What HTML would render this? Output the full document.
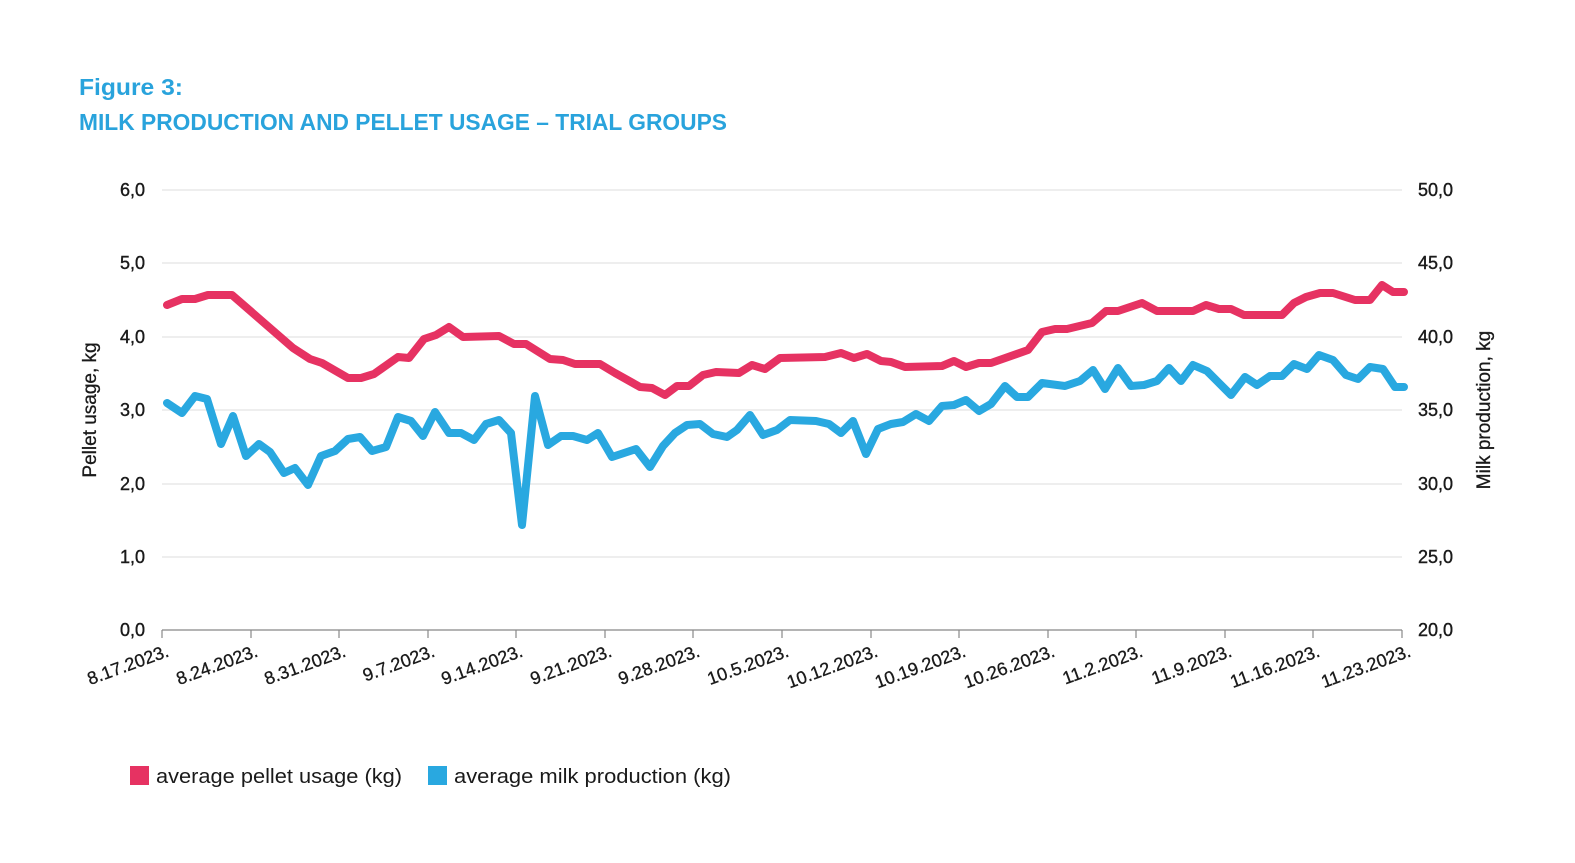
<!DOCTYPE html>
<html><head><meta charset="utf-8"><style>
html,body{margin:0;padding:0;background:#fff;}
svg{display:block;font-family:"Liberation Sans",sans-serif;}
</style></head><body>
<svg width="1575" height="863" viewBox="0 0 1575 863" xmlns="http://www.w3.org/2000/svg">
<text x="79" y="95" font-size="23" font-weight="bold" fill="#29a3dc" textLength="104" lengthAdjust="spacingAndGlyphs">Figure 3:</text>
<text x="79" y="130" font-size="23" font-weight="bold" fill="#29a3dc" textLength="648" lengthAdjust="spacingAndGlyphs">MILK PRODUCTION AND PELLET USAGE – TRIAL GROUPS</text>
<g stroke="#e3e3e3" stroke-width="1.2">
<line x1="162" y1="190" x2="1402" y2="190"/><line x1="162" y1="263" x2="1402" y2="263"/>
<line x1="162" y1="337" x2="1402" y2="337"/><line x1="162" y1="410" x2="1402" y2="410"/>
<line x1="162" y1="484" x2="1402" y2="484"/><line x1="162" y1="557" x2="1402" y2="557"/>
</g>
<line x1="162" y1="630" x2="1402" y2="630" stroke="#888" stroke-width="1.2"/>
<g stroke="#888" stroke-width="1.2">
<line x1="162" y1="630" x2="162" y2="638"/><line x1="251" y1="630" x2="251" y2="638"/><line x1="339" y1="630" x2="339" y2="638"/><line x1="428" y1="630" x2="428" y2="638"/><line x1="516" y1="630" x2="516" y2="638"/><line x1="605" y1="630" x2="605" y2="638"/><line x1="693" y1="630" x2="693" y2="638"/><line x1="782" y1="630" x2="782" y2="638"/><line x1="871" y1="630" x2="871" y2="638"/><line x1="959" y1="630" x2="959" y2="638"/><line x1="1048" y1="630" x2="1048" y2="638"/><line x1="1136" y1="630" x2="1136" y2="638"/><line x1="1225" y1="630" x2="1225" y2="638"/><line x1="1313" y1="630" x2="1313" y2="638"/><line x1="1402" y1="630" x2="1402" y2="638"/>
</g>
<g font-size="18" fill="#1a1a1a" text-anchor="end" stroke="#1a1a1a" stroke-width="0.4">
<text x="145" y="196">6,0</text><text x="145" y="269">5,0</text><text x="145" y="343">4,0</text><text x="145" y="416">3,0</text><text x="145" y="490">2,0</text><text x="145" y="563">1,0</text><text x="145" y="636">0,0</text>
</g>
<g font-size="18" fill="#1a1a1a" stroke="#1a1a1a" stroke-width="0.4">
<text x="1418" y="196">50,0</text><text x="1418" y="269">45,0</text><text x="1418" y="343">40,0</text><text x="1418" y="416">35,0</text><text x="1418" y="490">30,0</text><text x="1418" y="563">25,0</text><text x="1418" y="636">20,0</text>
</g>
<text transform="translate(96,410) rotate(-90)" font-size="19" fill="#1a1a1a" text-anchor="middle" stroke="#1a1a1a" stroke-width="0.3">Pellet usage, kg</text>
<text transform="translate(1490,410) rotate(-90)" font-size="19" fill="#1a1a1a" text-anchor="middle" stroke="#1a1a1a" stroke-width="0.3">Milk production, kg</text>
<g font-size="18" fill="#1a1a1a" text-anchor="end" stroke="#1a1a1a" stroke-width="0.3">
<text transform="translate(170,656) rotate(-20)">8.17.2023.</text>
<text transform="translate(259,656) rotate(-20)">8.24.2023.</text>
<text transform="translate(347,656) rotate(-20)">8.31.2023.</text>
<text transform="translate(436,656) rotate(-20)">9.7.2023.</text>
<text transform="translate(524,656) rotate(-20)">9.14.2023.</text>
<text transform="translate(613,656) rotate(-20)">9.21.2023.</text>
<text transform="translate(701,656) rotate(-20)">9.28.2023.</text>
<text transform="translate(790,656) rotate(-20)">10.5.2023.</text>
<text transform="translate(879,656) rotate(-20)">10.12.2023.</text>
<text transform="translate(967,656) rotate(-20)">10.19.2023.</text>
<text transform="translate(1056,656) rotate(-20)">10.26.2023.</text>
<text transform="translate(1144,656) rotate(-20)">11.2.2023.</text>
<text transform="translate(1233,656) rotate(-20)">11.9.2023.</text>
<text transform="translate(1321,656) rotate(-20)">11.16.2023.</text>
<text transform="translate(1412,656) rotate(-20)">11.23.2023.</text>
</g>
<polyline fill="none" stroke="#e63262" stroke-width="8" stroke-linejoin="round" stroke-linecap="round" points="167,305 182,299 195,299 208,295 232,295 293,348 310,359 322,363 348,378 361,378 374,374 398,357 409,358 424,339 436,335 449,327 463,337 499,336 514,344 526,344 550,359 563,360 575,364 600,364 615,373 640,387 652,388 665,395 677,386 689,386 703,375 716,372 739,373 752,365 765,369 780,358 825,357 841,353 854,358 867,354 881,361 891,362 905,367 942,366 954,361 966,367 979,363 991,363 1028,350 1042,332 1055,329 1067,329 1092,323 1106,311 1118,311 1142,303 1157,311 1193,311 1206,305 1219,309 1231,309 1244,315 1282,315 1294,303 1306,297 1320,293 1333,293 1355,300 1370,300 1382,285 1393,292 1404,292"/>
<polyline fill="none" stroke="#29a8e0" stroke-width="8" stroke-linejoin="round" stroke-linecap="round" points="167,403 182,413 195,396 207,399 221,444 233,416 246,456 259,444 270,452 284,473 295,468 308,485 321,456 335,451 348,439 360,437 372,451 386,447 398,417 411,421 423,436 435,412 449,433 461,433 474,440 486,424 499,420 511,433 522,525 535,396 548,445 561,436 573,436 587,440 598,433 612,457 636,449 650,467 663,446 675,433 687,425 700,424 713,434 727,437 737,430 750,415 763,435 777,430 790,420 816,421 829,424 841,433 853,421 866,454 878,429 891,424 903,422 916,414 929,421 942,406 954,405 966,400 979,411 991,404 1005,386 1017,397 1028,397 1042,383 1065,386 1080,381 1093,370 1105,389 1118,368 1131,386 1144,385 1157,381 1169,368 1181,381 1193,365 1207,371 1231,395 1245,377 1257,385 1270,376 1282,376 1294,364 1307,369 1319,355 1333,360 1346,375 1358,379 1370,367 1383,369 1395,387 1404,387"/>
<rect x="130" y="766" width="19" height="19" fill="#e63262"/>
<text x="156" y="783" font-size="20" fill="#1a1a1a" textLength="246" lengthAdjust="spacingAndGlyphs">average pellet usage (kg)</text>
<rect x="428" y="766" width="19" height="19" fill="#29a8e0"/>
<text x="454" y="783" font-size="20" fill="#1a1a1a" textLength="277" lengthAdjust="spacingAndGlyphs">average milk production (kg)</text>
</svg>
</body></html>
